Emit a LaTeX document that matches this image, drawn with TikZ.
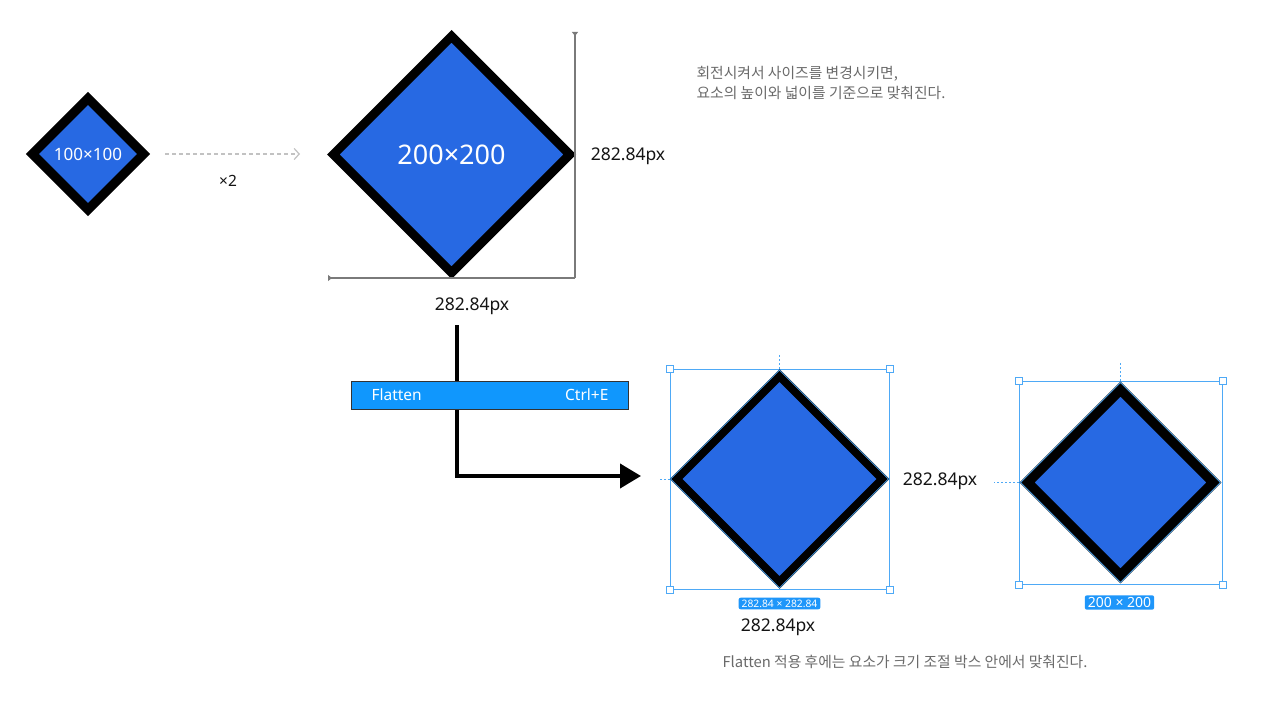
\documentclass[tikz,border=0pt]{standalone}
\usepackage{fontspec}
\setmainfont{Noto Sans}
\newfontfamily\kr{Noto Sans CJK KR}
\usetikzlibrary{shapes.geometric,arrows.meta}
\definecolor{dblue}{HTML}{2769E3}
\definecolor{menublue}{HTML}{1097FD}
\definecolor{selblue}{HTML}{4EA9F6}
\definecolor{badgeblue}{HTML}{1E96FA}
\definecolor{gtxt}{HTML}{6A6A6A}
\definecolor{dimgray}{HTML}{7A7A7A}
\definecolor{ltgray}{HTML}{C2C2C2}
\begin{document}
\begin{tikzpicture}[x=1pt,y=-1pt,
  dia/.style={shape=diamond, aspect=1, inner sep=0pt, draw=black, fill=dblue, line join=miter, text=white},
  diaout/.style={shape=diamond, aspect=1, inner sep=0pt, draw=selblue, line width=0.7pt},
  selbox/.style={shape=rectangle, inner sep=0pt, draw=selblue, line width=0.9pt},
  handle/.style={shape=rectangle, inner sep=0pt, minimum size=7pt, draw=selblue, fill=white, line width=0.9pt},
  seltick/.style={draw=selblue, line width=0.9pt, dash pattern=on 2pt off 2pt},
  badge/.style={shape=rectangle, rounded corners=2pt, fill=badgeblue, text=white, inner xsep=3pt, inner ysep=2pt},
  lbl/.style={text=black!92, font=\fontsize{17.5}{20}\selectfont},
  gtext/.style={text=gtxt, font=\kr\fontsize{14.8}{20}\selectfont, align=left},
  dimline/.style={draw=dimgray, line width=1.2pt},
  menubar/.style={shape=rectangle, draw=black!80, line width=0.8pt, fill=menublue, minimum width=277pt, minimum height=28pt, inner sep=0pt},
  menutxt/.style={text=white, font=\fontsize{15.5}{17}\selectfont}
]
\useasboundingbox[fill=white] (0,0) rectangle (1286,701);

% small diamond
\node[dia, line width=9.2pt, minimum width=115pt, minimum height=115pt, font=\fontsize{17}{19}\selectfont] (s) at (88,154) {100×100};

% dashed scaling arrow
\coordinate (da) at (165,154);
\coordinate (db) at (300,154);
\draw[ltgray, line width=1.2pt, dash pattern=on 4pt off 3pt, -{Straight Barb[length=5pt,width=11pt]}] (da) -- (db);
\node[text=black!92, font=\fontsize{15.5}{17}\selectfont] (x2) at (228,181) {×2};

% large diamond
\node[dia, line width=9pt, minimum width=240pt, minimum height=240pt, font=\fontsize{27}{30}\selectfont] (L) at (451.5,154.5) {200×200};

% dimension lines
\coordinate (vt) at (575,32);
\coordinate (cr) at (575,278);
\coordinate (hl) at (328,278);
\draw[dimline, -{Triangle[reversed,length=4pt,width=6pt]}] (cr) -- (vt);
\draw[dimline, -{Triangle[reversed,length=4pt,width=6pt]}] (cr) -- (hl);
\node[lbl] (hv) at (628,156) {282.84px};
\node[lbl] (hh) at (472,306) {282.84px};

% description text top
\node[gtext, anchor=north west] (t1) at (693,63) {회전시켜서 사이즈를 변경시키면,\\요소의 높이와 넓이를 기준으로 맞춰진다.};

% flatten arrow
\coordinate (fs) at (457,325);
\coordinate (fe) at (641,476);
\draw[line width=4pt, -{Triangle[length=21pt,width=24pt]}] (fs) |- (fe);
\node[menubar] (fl) at (489.5,395) {};
\node[menutxt, anchor=west] (flt) at (368,395) {Flatten};
\node[menutxt, anchor=east] (flk) at (612,395) {Ctrl+E};

% middle selection
\node[selbox, minimum width=219pt, minimum height=220pt] (mb) at (779.5,479) {};
\node[dia, line width=9pt, minimum width=210.5pt, minimum height=210.5pt] (m) at (779.5,479) {};
\node[diaout, minimum width=218pt, minimum height=218pt] (mo) at (779.5,479) {};
\node[handle] (mh1) at (mb.north west) {};
\node[handle] (mh2) at (mb.north east) {};
\node[handle] (mh3) at (mb.south west) {};
\node[handle] (mh4) at (mb.south east) {};
\coordinate (mtt) at (779.5,355);
\coordinate (mlt) at (658,479);
\draw[seltick] (mb.north) -- (mtt);
\draw[seltick] (mb.west) -- (mlt);
\node[badge, font=\fontsize{10.3}{12}\selectfont] (mbadge) at (779.5,603.5) {282.84 × 282.84};
\node[lbl] (mw) at (778,627) {282.84px};
\node[lbl] (mhh) at (940,481) {282.84px};

% right selection
\node[selbox, minimum width=203pt, minimum height=203pt] (rb) at (1120.5,482.5) {};
\node[dia, line width=10.6pt, minimum width=191pt, minimum height=191pt] (r) at (1120.5,482.5) {};
\node[diaout, minimum width=200pt, minimum height=200pt] (ro) at (1120.5,482.5) {};
\node[handle] (rh1) at (rb.north west) {};
\node[handle] (rh2) at (rb.north east) {};
\node[handle] (rh3) at (rb.south west) {};
\node[handle] (rh4) at (rb.south east) {};
\coordinate (rtt) at (1120.5,362);
\coordinate (rlt) at (994,482.5);
\draw[seltick] (rb.north) -- (rtt);
\draw[seltick] (rb.west) -- (rlt);
\node[badge, font=\fontsize{14}{16}\selectfont] (rbadge) at (1119.5,602.5) {200 × 200};

% bottom text
\node[gtext, anchor=west] (t2) at (719,662) {Flatten 적용 후에는 요소가 크기 조절 박스 안에서 맞춰진다.};
\end{tikzpicture}
\end{document}
